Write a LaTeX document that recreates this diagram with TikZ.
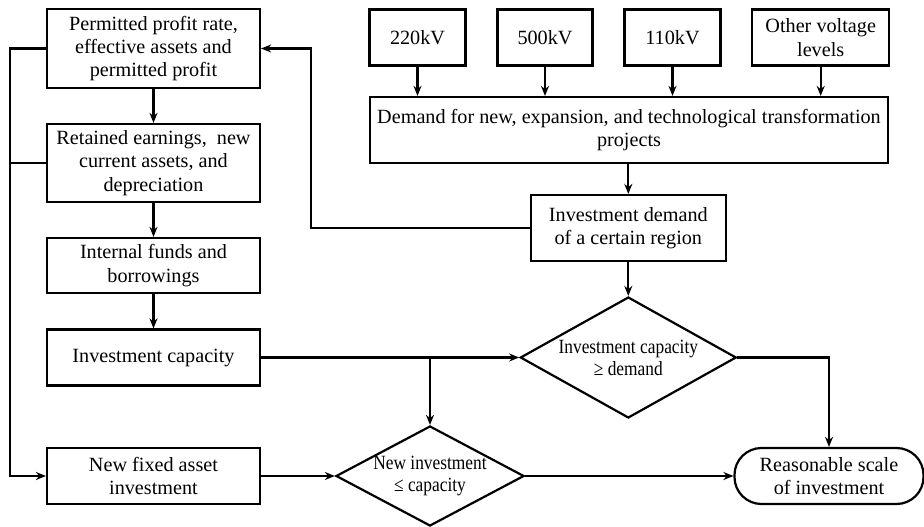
\documentclass[tikz,border=0pt]{standalone}
\usepackage{fontspec}
\setmainfont{Liberation Serif}
\newfontfamily\narrowfont[FakeStretch=0.86]{Liberation Serif}
\usetikzlibrary{shapes.geometric,arrows.meta}

\begin{document}
\begin{tikzpicture}[x=1pt, y=-1pt, ->, >={Stealth[length=10pt,width=8pt]}, line width=2.2pt,
  font=\fontsize{20.2}{23.3}\selectfont,
  box/.style={rectangle, draw, align=center, inner sep=0pt},
  decision/.style={diamond, draw, align=center, inner sep=0pt, font=\narrowfont\fontsize{20.2}{22}\selectfont},
  terminal/.style={rectangle, draw, rounded corners=27pt, align=center, inner sep=0pt}]
   \useasboundingbox (0,0) rectangle (924,527);
   % left column
   \node [box, minimum width=213pt, minimum height=79pt] (profit) at (153.5,48.5) {Permitted profit rate,\\effective assets and\\permitted profit};
   \node [box, minimum width=213pt, minimum height=78pt] (retained) at (153.5,163) {Retained earnings,~ new\\current assets, and\\depreciation};
   \node [box, minimum width=213pt, minimum height=55pt] (funds) at (153.5,265.5) {Internal funds and\\borrowings};
   \node [box, minimum width=213pt, minimum height=56pt] (capacity) at (153.5,357.5) {Investment capacity};
   \node [box, minimum width=213pt, minimum height=56pt] (fixed) at (153.5,476) {New fixed asset\\investment};
   % voltage levels
   \node [box, minimum width=96pt, minimum height=56pt] (v220) at (417.5,37.5) {220kV};
   \node [box, minimum width=95pt, minimum height=56pt] (v500) at (545,37.5) {500kV};
   \node [box, minimum width=96pt, minimum height=56pt] (v110) at (672.5,37.5) {110kV};
   \node [box, minimum width=137pt, minimum height=56pt] (vother) at (820.7,37.5) {Other voltage\\levels};
   \node [box, minimum width=518pt, minimum height=66pt] (demand) at (629,130) {Demand for new, expansion, and technological transformation\\projects};
   \node [box, minimum width=195pt, minimum height=66pt] (region) at (628.3,228) {Investment demand\\of a certain region};
   % checks
   \node [decision, minimum width=216pt, minimum height=121pt, aspect=1.78] (check1) at (628.3,357.5) {Investment capacity\\≥ demand};
   \node [decision, minimum width=188pt, minimum height=100pt, aspect=1.88] (check2) at (430,476) {New investment\\≤ capacity};
   \node [terminal, minimum width=189pt, minimum height=56pt] (scale) at (829,476) {Reasonable scale\\of investment};
   \coordinate (bus) at (10,48.5);
   \coordinate (loop) at (311,228);
   \coordinate (split) at (430,357.5);

   \foreach \v in {v220,v500,v110,vother}
      \draw (\v) -- (\v |- demand.north);
   \draw (demand.south -| region) -- (region);
   \draw (region) -- (check1);
   \draw (region.west) -- (loop) |- (profit.east);
   \draw (profit) -- (retained);
   \draw (retained) -- (funds);
   \draw (funds) -- (capacity);
   \draw (profit.west) -- (bus) |- (fixed.west);
   \draw [-] (retained.west) -- (bus |- retained.west);
   \draw (capacity) -- (check1);
   \draw (split) -- (check2);
   \draw (fixed) -- (check2);
   \draw (check2) -- (scale);
   \draw (check1.east) -| (scale.north);
\end{tikzpicture}
\end{document}
